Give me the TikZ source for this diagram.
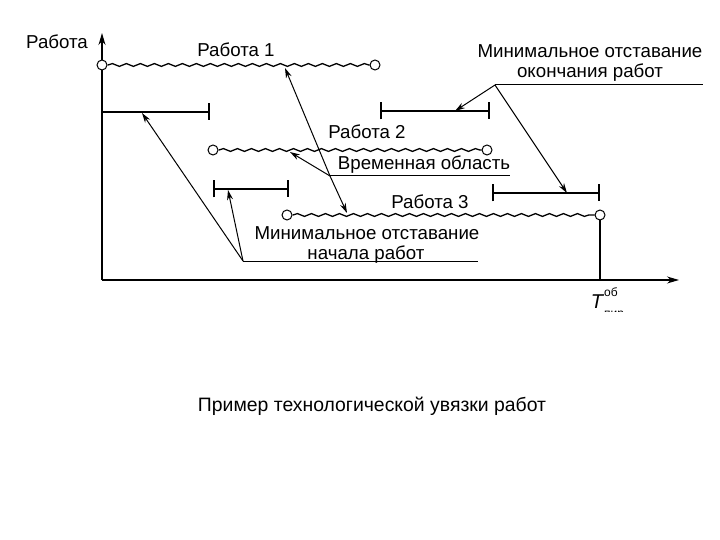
\documentclass[tikz,border=0pt]{standalone}
\usepackage{fontspec}
\setmainfont{Liberation Sans}
\usetikzlibrary{decorations.pathmorphing,arrows.meta}
\begin{document}
\begin{tikzpicture}[x=1pt,y=-1pt,
  lbl/.style={inner sep=0pt, anchor=base, font=\fontsize{18.7}{20}\selectfont},
  wave/.style={line width=1.3pt, decorate, decoration={snake, amplitude=1.4pt, segment length=14pt, pre length=0.5pt, post length=0.5pt}},
  endpt/.style={circle, draw, line width=1pt, minimum size=10pt, inner sep=0pt, fill=white,
    path picture={\fill (path picture bounding box.center) circle (1pt);}},
  lagbar/.style={line width=1.8pt},
  axis/.style={line width=1.2pt, -{Stealth[length=12pt,width=7pt]}},
  ptr/.style={line width=1pt, -{Stealth[length=10pt,width=6pt]}},
  uline/.style={line width=1pt}
]
\useasboundingbox (0,0) rectangle (720,540);

% axes
\coordinate (O) at (102,280);
\coordinate (ytop) at (102,33);
\coordinate (xend) at (679,280);
\draw[axis] (O) -- (ytop);
\draw[axis] (O) -- (xend);
\node[lbl] (ylab) at (57,49) {Работа};

% Work 1
\node[endpt] (w1s) at (102,65) {};
\node[endpt] (w1e) at (375,65) {};
\draw[wave] (w1s.east) -- (w1e.west);
\node[lbl] (w1lab) at (236,57) {Работа 1};

% Work 2
\node[endpt] (w2s) at (213,150) {};
\node[endpt] (w2e) at (487,150) {};
\draw[wave] (w2s.east) -- (w2e.west);
\node[lbl] (w2lab) at (367,139) {Работа 2};

% Work 3
\node[endpt] (w3s) at (287,215) {};
\node[endpt] (w3e) at (600,215) {};
\draw[wave] (w3s.east) -- (w3e.west);
\node[lbl] (w3lab) at (430,208) {Работа 3};
\coordinate (tx) at (600,280);
\draw[line width=1.1pt] (w3e.south) -- (tx);

% lag bars
\coordinate (b1s) at (102,112);
\coordinate (b1e) at (210,112);
\draw[lagbar, -{Bar[width=17pt,line width=1.6pt]}] (b1s) -- (b1e);
\coordinate (b2s) at (213,189);
\coordinate (b2e) at (289,189);
\draw[lagbar, {Bar[width=17pt,line width=1.6pt]}-{Bar[width=17pt,line width=1.6pt]}] (b2s) -- (b2e);
\coordinate (b3s) at (380,111);
\coordinate (b3e) at (490,111);
\draw[lagbar, {Bar[width=17pt,line width=1.6pt]}-{Bar[width=17pt,line width=1.6pt]}] (b3s) -- (b3e);
\coordinate (b4s) at (492,193);
\coordinate (b4e) at (600,193);
\draw[lagbar, {Bar[width=17pt,line width=1.6pt]}-{Bar[width=17pt,line width=1.6pt]}] (b4s) -- (b4e);

% "Временная область"
\node[lbl] (vrlab) at (424,170) {Временная область};
\coordinate (vr) at (330,176);
\coordinate (vre) at (510,176);
\draw[uline] (vr) -- (vre);
\coordinate (t1) at (285,68);
\coordinate (t2) at (290,152);
\coordinate (t3) at (347,213);
\draw[ptr] (vr) -- (t1);
\draw[ptr] (vr) -- (t2);
\draw[ptr] (vr) -- (t3);

% "Минимальное отставание окончания работ"
\node[lbl] (molab1) at (590,58) {Минимальное отставание};
\node[lbl] (molab2) at (590,78) {окончания работ};
\coordinate (mo) at (495,85);
\coordinate (moe) at (703,85);
\draw[uline] (mo) -- (moe);
\coordinate (t4) at (455,111);
\coordinate (t5) at (567,193);
\draw[ptr] (mo) -- (t4);
\draw[ptr] (mo) -- (t5);

% "Минимальное отставание начала работ"
\node[lbl] (mnlab1) at (367,240) {Минимальное отставание};
\node[lbl] (mnlab2) at (366,259) {начала работ};
\coordinate (mn) at (243,261);
\coordinate (mne) at (478,261);
\draw[uline] (mn) -- (mne);
\coordinate (t6) at (142,113);
\coordinate (t7) at (228,190);
\draw[ptr] (mn) -- (t6);
\draw[ptr] (mn) -- (t7);

% T label (cropped as in the source)
\begin{scope}
\clip (560,284) rectangle (650,311);
\node[inner sep=0pt, anchor=base] (tlab) at (597,308) {\fontsize{20}{21}\selectfont\itshape T};
\node[inner sep=0pt, anchor=base west, font=\fontsize{12}{13}\selectfont] (tsup) at (604,296) {об};
\node[inner sep=0pt, anchor=base west, font=\fontsize{12}{13}\selectfont] (tsub) at (604,317) {пир};
\end{scope}

% caption
\node[inner sep=0pt, anchor=base, font=\fontsize{19.4}{21}\selectfont] (cap) at (372,411) {Пример технологической увязки работ};
\end{tikzpicture}
\end{document}
